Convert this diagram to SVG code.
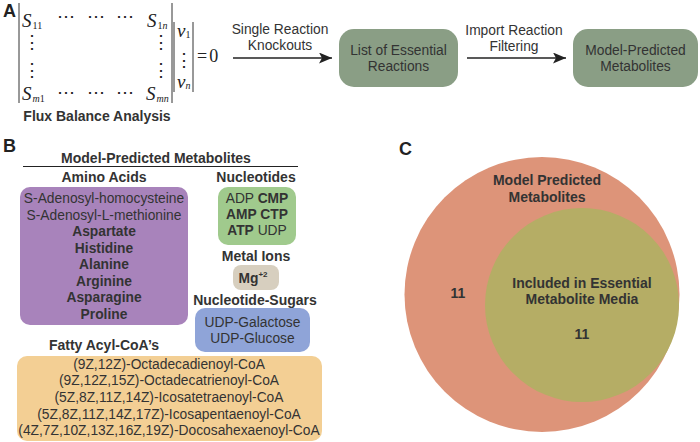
<svg xmlns="http://www.w3.org/2000/svg" width="700" height="442" viewBox="0 0 700 442">
<defs>
<marker id="ah" viewBox="0 0 13 11" refX="13" refY="5.5" markerWidth="13" markerHeight="11" markerUnits="userSpaceOnUse" orient="auto">
<path d="M0,0 L13,5.5 L0,11 L3,5.5 Z" fill="#222"/>
</marker>
</defs>
<style>
text{font-family:"Liberation Sans",Arial,sans-serif;fill:#333;}
.lbl{font-size:18px;font-weight:bold;fill:#222;}
.h{font-size:14px;font-weight:bold;text-anchor:middle;}
.t{font-size:13.8px;text-anchor:middle;}
.b{font-weight:bold;}
.m{font-family:"Liberation Serif","Times New Roman",serif;font-style:italic;font-size:19px;fill:#222;}
.mr{font-family:"Liberation Serif","Times New Roman",serif;font-size:18px;fill:#222;}
.sub{font-size:10px;}
.up{font-style:normal;}
.node{fill:#8a9e85;}
.bar{stroke:#333;stroke-width:1;}
.conn{stroke:#222;stroke-width:1.6;fill:none;marker-end:url(#ah);}
</style>
<rect width="700" height="442" fill="#fff"/>

<!-- Panel A -->
<text x="3" y="17" class="lbl">A</text>
<g id="matrix">
<line x1="19" y1="3" x2="19" y2="103" class="bar"/>
<line x1="172" y1="3" x2="172" y2="103" class="bar"/>
<line x1="174" y1="22" x2="174" y2="92" class="bar"/>
<line x1="193" y1="22" x2="193" y2="92" class="bar"/>
<text x="22" y="27" class="m">S<tspan class="sub up" dx="1" dy="2">11</tspan></text>
<text x="147" y="27" class="m">S<tspan class="sub" dx="1" dy="2"><tspan class="up">1</tspan>n</tspan></text>
<text x="22" y="100" class="m">S<tspan class="sub" dx="1" dy="2">m<tspan class="up">1</tspan></tspan></text>
<text x="146" y="100" class="m">S<tspan class="sub" dx="1" dy="2">mn</tspan></text>
<text x="66" y="22" class="mr" text-anchor="middle">⋯</text>
<text x="96" y="22" class="mr" text-anchor="middle">⋯</text>
<text x="125" y="22" class="mr" text-anchor="middle">⋯</text>
<text x="66" y="98" class="mr" text-anchor="middle">⋯</text>
<text x="96" y="98" class="mr" text-anchor="middle">⋯</text>
<text x="125" y="98" class="mr" text-anchor="middle">⋯</text>
<text x="32" y="48" class="mr" text-anchor="middle">⋮</text>
<text x="32" y="76" class="mr" text-anchor="middle">⋮</text>
<text x="161" y="48" class="mr" text-anchor="middle">⋮</text>
<text x="161" y="76" class="mr" text-anchor="middle">⋮</text>
<text x="177" y="37" class="m">ν<tspan class="sub up" dy="1">1</tspan></text>
<text x="184" y="66" class="mr" text-anchor="middle">⋮</text>
<text x="177" y="88" class="m">ν<tspan class="sub" dy="1">n</tspan></text>
<text x="197" y="62" class="mr">=<tspan dx="2">0</tspan></text>
<text x="97" y="121" class="h">Flux Balance Analysis</text>
</g>

<g id="essential">
<rect x="339" y="29" width="119" height="58" rx="15" class="node"/>
<text x="398.5" y="55" class="t">List of Essential</text>
<text x="398.5" y="71" class="t">Reactions</text>
</g>
<g id="predicted">
<rect x="573" y="29" width="125" height="58" rx="15" class="node"/>
<text x="635.5" y="55" class="t">Model-Predicted</text>
<text x="635.5" y="71" class="t">Metabolites</text>
</g>
<g id="connectors">
<line x1="233" y1="58" x2="332" y2="58" class="conn"/>
<line x1="467" y1="58" x2="566" y2="58" class="conn"/>
<text x="280" y="34" class="t">Single Reaction</text>
<text x="280" y="50" class="t">Knockouts</text>
<text x="514" y="35" class="t">Import Reaction</text>
<text x="514" y="51" class="t">Filtering</text>
</g>

<!-- Panel B -->
<text x="3" y="152" class="lbl">B</text>
<text x="156" y="163" class="h">Model-Predicted Metabolites</text>
<line x1="23" y1="166.5" x2="298" y2="166.5" stroke="#222" stroke-width="1"/>
<text x="104" y="182" class="h">Amino Acids</text>
<text x="256" y="182" class="h">Nucleotides</text>

<g id="amino">
<rect x="20" y="187" width="168" height="138" rx="10" fill="#a883bb"/>
<text x="104" y="203" class="t">S-Adenosyl-homocysteine</text>
<text x="104" y="219.5" class="t">S-Adenosyl-L-methionine</text>
<text x="104" y="236" class="t b">Aspartate</text>
<text x="104" y="252.5" class="t b">Histidine</text>
<text x="104" y="269" class="t b">Alanine</text>
<text x="104" y="285.5" class="t b">Arginine</text>
<text x="104" y="302" class="t b">Asparagine</text>
<text x="104" y="318.5" class="t b">Proline</text>
</g>

<g id="nucleotides">
<rect x="218" y="187" width="78" height="58" rx="10" fill="#a0ca8d"/>
<text x="257" y="203" class="t">ADP <tspan class="b">CMP</tspan></text>
<text x="257" y="219" class="t"><tspan class="b">AMP CTP</tspan></text>
<text x="257" y="235" class="t"><tspan class="b">ATP</tspan> UDP</text>
</g>

<text x="256" y="261" class="h">Metal Ions</text>
<g id="metal">
<rect x="233" y="265" width="46" height="25" rx="8" fill="#d7cfbf"/>
<text x="253" y="283" class="t b">Mg<tspan font-size="8" dy="-6">+2</tspan></text>
</g>

<text x="255" y="305" class="h">Nucleotide-Sugars</text>
<g id="sugars">
<rect x="195" y="308" width="115" height="44" rx="10" fill="#8fa4d8"/>
<text x="252.5" y="327" class="t">UDP-Galactose</text>
<text x="252.5" y="343" class="t">UDP-Glucose</text>
</g>

<text x="104" y="350" class="h">Fatty Acyl-CoA’s</text>
<g id="fatty">
<rect x="17" y="356" width="305" height="85" rx="10" fill="#f3cf94"/>
<text x="169" y="368.5" class="t">(9Z,12Z)-Octadecadienoyl-CoA</text>
<text x="169" y="385" class="t">(9Z,12Z,15Z)-Octadecatrienoyl-CoA</text>
<text x="169" y="401.5" class="t">(5Z,8Z,11Z,14Z)-Icosatetraenoyl-CoA</text>
<text x="169" y="418.5" class="t">(5Z,8Z,11Z,14Z,17Z)-Icosapentaenoyl-CoA</text>
<text x="169" y="435" class="t">(4Z,7Z,10Z,13Z,16Z,19Z)-Docosahexaenoyl-CoA</text>
</g>

<!-- Panel C -->
<text x="399" y="155" class="lbl">C</text>
<g id="venn-outer">
<circle cx="542" cy="294.5" r="137.5" fill="#dd9479"/>
<text x="547" y="185" class="h">Model Predicted</text>
<text x="547" y="202" class="h">Metabolites</text>
<text x="458" y="298" class="h">11</text>
</g>
<g id="venn-inner">
<circle cx="582" cy="305" r="97" fill="#b5ad65"/>
<text x="582" y="288" class="h">Included in Essential</text>
<text x="582" y="304" class="h">Metabolite Media</text>
<text x="582" y="339" class="h">11</text>
</g>
</svg>
